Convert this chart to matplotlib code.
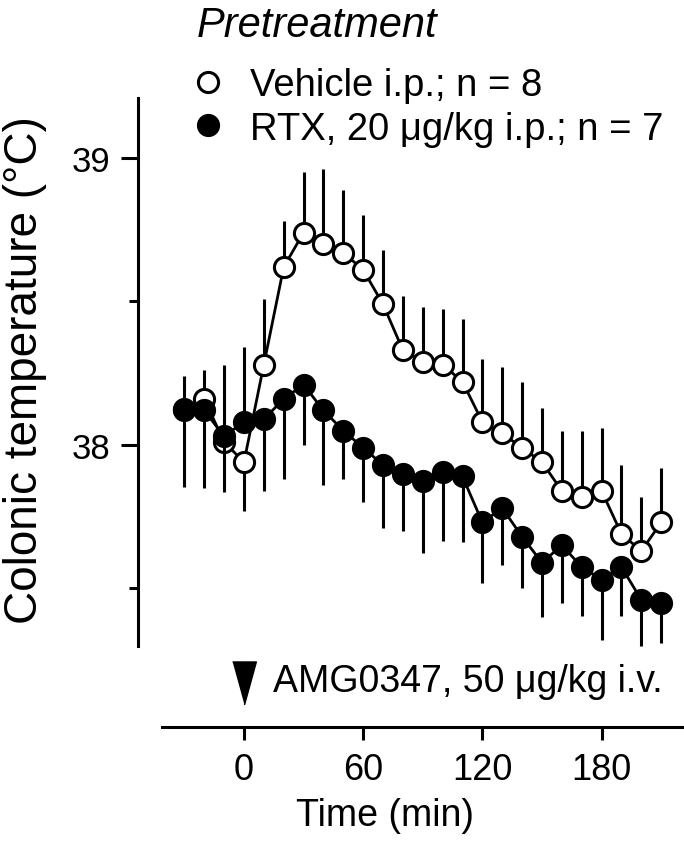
"""Colonic temperature after AMG0347, vehicle vs RTX pretreatment"""

import matplotlib

matplotlib.use("Agg")
import matplotlib.pyplot as plt
import numpy as np
from matplotlib.lines import Line2D

# time points (min)
time = [-30, -20, -10, 0, 10, 20, 30, 40, 50, 60, 70, 80, 90, 100, 110,
        120, 130, 140, 150, 160, 170, 180, 190, 200, 210]

# means (deg C)
vehicle = [38.12, 38.16, 38.01, 37.94, 38.28, 38.62, 38.74, 38.70, 38.67,
           38.61, 38.49, 38.33, 38.29, 38.28, 38.22, 38.08, 38.04, 37.99,
           37.94, 37.84, 37.82, 37.84, 37.69, 37.63, 37.73]
rtx = [38.125, 38.12, 38.03, 38.08, 38.09, 38.16, 38.21, 38.12, 38.05,
       37.99, 37.93, 37.90, 37.875, 37.905, 37.89, 37.73, 37.78, 37.68,
       37.59, 37.65, 37.575, 37.53, 37.575, 37.46, 37.45]

# SE, drawn one-sided: positive = bar up, negative = bar down
vehicle_se = [0.12, 0.10, 0.27, -0.17, 0.23, 0.16, 0.21, 0.26, 0.22, 0.19,
              0.19, 0.19, 0.19, 0.195, 0.22, 0.22, 0.23, 0.23, 0.19, 0.21,
              0.23, 0.22, 0.24, 0.19, 0.19]
rtx_se = [-0.27, -0.27, -0.195, 0.26, -0.25, -0.28, -0.21, -0.26, -0.17,
          -0.19, -0.22, -0.20, -0.25, -0.24, -0.23, -0.21, -0.20, -0.18,
          -0.19, -0.20, -0.17, -0.21, -0.17, -0.16, -0.14]

injection_time = 0
xticks = [0, 60, 120, 180]
yticks = [38, 39]
yminor = [37.5, 38.5]

plt.rcParams["font.family"] = ["Liberation Sans", "DejaVu Sans"]


def split_err(se):
    se = np.asarray(se)
    return [np.where(se < 0, -se, 0), np.where(se > 0, se, 0)]


def main():
    fig = plt.figure(figsize=(6.84, 8.53), dpi=100)
    W, H = 684, 853
    ax = fig.add_axes([137.7 / W, (H - 727.7) / H, (W - 137.7) / W, (727.7 - 99) / H])

    lw = 2.2
    ms = 14.5
    ax.errorbar(time, vehicle, yerr=split_err(vehicle_se), fmt="o-", color="black",
                mfc="white", mec="black", ms=ms, mew=2.2, lw=2.0, elinewidth=lw,
                capsize=0, clip_on=False, zorder=3)
    ax.errorbar(time, rtx, yerr=split_err(rtx_se), fmt="o-", color="black",
                mfc="black", mec="black", ms=ms, mew=2.2, lw=2.0, elinewidth=lw,
                capsize=0, clip_on=False, zorder=4)

    ax.set_xlim(-53.5, 221.5)
    ax.set_ylim(37.018, 39.209)

    for s in ["top", "right"]:
        ax.spines[s].set_visible(False)
    ax.spines["left"].set_bounds(37.30, 39.209)
    ax.spines["bottom"].set_bounds(-41.2, 221.5)
    ax.spines["left"].set_linewidth(lw)
    ax.spines["bottom"].set_linewidth(lw)

    ax.set_xticks(xticks)
    ax.set_yticks(yticks)
    ax.set_yticks(yminor, minor=True)
    ax.tick_params(axis="x", length=9, width=lw, labelsize=26, pad=9)
    ax.tick_params(axis="y", which="major", length=12.5, width=lw, labelsize=25, pad=7)
    ax.tick_params(axis="y", which="minor", length=6.5, width=lw)

    ax.set_xlabel("Time (min)", fontsize=27)
    ax.xaxis.set_label_coords(0.4527, -0.112)
    ax.set_ylabel("Colonic temperature (\u00b0C)", fontsize=33)
    ax.yaxis.set_label_coords(-0.166, 0.569)

    # AMG0347 injection marker
    tri = [(-0.55, 1.0), (0.55, 1.0), (0.0, -1.0)]
    ax.plot([injection_time], [37.171], marker=tri, ms=31, color="black",
            clip_on=False, zorder=5)
    ax.text(14.6, 37.143, "AMG0347, 50 \u03bcg/kg i.v.", fontsize=27,
            ha="left", va="baseline")

    # legend
    fig.text(197 / W, 1 - 37 / H, "Pretreatment", fontsize=30, fontstyle="italic",
             ha="left", va="baseline")
    handles = [
        Line2D([], [], ls="none", marker="o", ms=ms, mfc="white", mec="black", mew=2.2),
        Line2D([], [], ls="none", marker="o", ms=ms, mfc="black", mec="black", mew=2.2),
    ]
    labels = ["Vehicle i.p.; n = 8", "RTX, 20 \u03bcg/kg i.p.; n = 7"]
    fig.legend(handles, labels, loc="center left",
               bbox_to_anchor=(196.5 / W, 1 - 108 / H), frameon=False,
               fontsize=27.5, handlelength=0.6, handletextpad=0.8,
               labelspacing=0.2, borderpad=0, borderaxespad=0)

    fig.savefig("out.png", dpi=100)


if __name__ == "__main__":
    main()
